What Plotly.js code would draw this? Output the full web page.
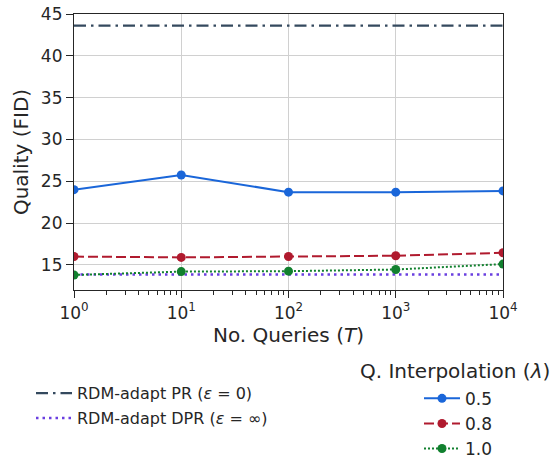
<!DOCTYPE html>
<html><head><meta charset="utf-8">
<script src="https://cdn.plot.ly/plotly-3.0.1.min.js"></script>
<style>body{margin:0}#c{width:552px;height:458px}</style>
</head><body><div id="c"></div>
<script>
const queries = [1, 10, 100, 1000, 10000];
const lam05 = [24.0, 25.75, 23.7, 23.7, 23.85];
const lam08 = [16.0, 15.9, 16.0, 16.1, 16.45];
const lam10 = [13.8, 14.2, 14.25, 14.45, 15.1];
const prValue = 43.6;
const dprValue = 13.85;
const xTickVals = [1, 10, 100, 1000, 10000];
const xTickText = ['10<sup>0</sup>','10<sup>1</sup>','10<sup>2</sup>','10<sup>3</sup>','10<sup>4</sup>'];
const xMinorVals = [2,3,4,5,6,7,8,9,20,30,40,50,60,70,80,90,200,300,400,500,600,700,800,900,2000,3000,4000,5000,6000,7000,8000,9000];
const yTickVals = [15, 20, 25, 30, 35, 40, 45];

const font = {family: 'DejaVu Sans', size: 16, color: '#262626'};
const traces = [
  {x: queries, y: queries.map(() => prValue), mode: 'lines', name: 'RDM-adapt PR (<i>ε</i> = 0)',
   line: {color: '#34495e', dash: '12px,5px,2.5px,5px', width: 2.2}, legend: 'legend', legendgroup: 'a'},
  {x: queries, y: queries.map(() => dprValue), mode: 'lines', name: 'RDM-adapt DPR (<i>ε</i> = ∞)',
   line: {color: '#6a3fe0', dash: '2.5px,4px', width: 2.4}, legend: 'legend', legendgroup: 'b'},
  {x: queries, y: lam05, mode: 'lines+markers', name: '0.5',
   line: {color: '#1a66d9', width: 2}, marker: {size: 9, color: '#1a66d9'}, legend: 'legend2', legendgroup: 'c'},
  {x: queries, y: lam08, mode: 'lines+markers', name: '0.8',
   line: {color: '#b01a2e', width: 2, dash: '10px,4px'}, marker: {size: 9, color: '#b01a2e'}, legend: 'legend2', legendgroup: 'd'},
  {x: queries, y: lam10, mode: 'lines+markers', name: '1.0',
   line: {color: '#11802e', width: 2, dash: '2px,2px'}, marker: {size: 9, color: '#11802e'}, legend: 'legend2', legendgroup: 'e'}
];
const layout = {
  width: 552, height: 458,
  margin: {l: 74, r: 49, t: 14, b: 168, autoexpand: false},
  font: font,
  paper_bgcolor: 'white', plot_bgcolor: 'white',
  showlegend: true,
  xaxis: {type: 'log', range: [0, 4], tickmode: 'array', tickvals: xTickVals, ticktext: xTickText,
    showgrid: true, gridcolor: '#d0d0d0', gridwidth: 1,
    ticks: 'outside', ticklen: 7, tickcolor: '#262626', tickwidth: 1.2,
    minor: {tickmode: 'array', tickvals: xMinorVals, ticks: 'outside', ticklen: 4, tickcolor: '#262626', tickwidth: 1, showgrid: false},
    showline: true, linecolor: '#262626', linewidth: 1.2, mirror: true, zeroline: false,
    automargin: false,
    title: {text: 'No. Queries (<i>T</i>)', font: {size: 20}, standoff: 0},
    tickfont: {size: 17}},
  yaxis: {range: [12, 45], tickvals: yTickVals,
    showgrid: true, gridcolor: '#d0d0d0', gridwidth: 1,
    ticks: 'outside', ticklen: 7, tickcolor: '#262626', tickwidth: 1.2,
    showline: true, linecolor: '#262626', linewidth: 1.2, mirror: true, zeroline: false,
    automargin: false,
    title: {text: 'Quality (FID)', font: {size: 20}, standoff: 6},
    tickfont: {size: 17}},
  legend: {x: (31-74)/429, y: -0.3125, xanchor: 'left', yanchor: 'top', font: {size: 16},
    bgcolor: 'rgba(0,0,0,0)', itemwidth: 36, tracegroupgap: 1},
  legend2: {x: (419-74)/429, y: -0.329, xanchor: 'left', yanchor: 'top', font: {size: 17},
    bgcolor: 'rgba(0,0,0,0)', itemwidth: 36, tracegroupgap: 0},
  annotations: [{xref: 'paper', yref: 'paper', x: (454.5-74)/429, y: -(371-290)/276,
    xanchor: 'center', yanchor: 'middle', showarrow: false,
    text: 'Q. Interpolation (<i>λ</i>)', font: {size: 20, color: '#262626'}}]
};
Plotly.newPlot('c', traces, layout, {displayModeBar: false});
</script></body></html>
